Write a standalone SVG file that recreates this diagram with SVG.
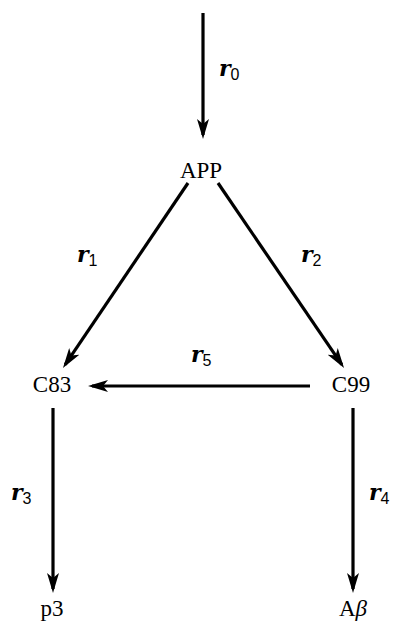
<svg xmlns="http://www.w3.org/2000/svg" width="394" height="629" viewBox="0 0 394 629">
<defs>
<style>
.node{font-family:"Liberation Serif","Times New Roman",serif;font-size:23px;fill:#000}
.lbl{font-family:"DejaVu Serif","Liberation Serif",serif;font-weight:bold;font-style:italic;font-size:22px;fill:#000}
.sub{font-family:"Liberation Sans",Arial,sans-serif;font-style:normal;font-weight:normal;font-size:16px}
.edge{stroke:#000;stroke-width:3.2;fill:none;marker-end:url(#ah)}
</style>
<marker id="ah" viewBox="0 0 20 12" refX="16" refY="6" markerWidth="20" markerHeight="12" markerUnits="userSpaceOnUse" orient="auto">
<path d="M0,0 L20,6 L0,12 L5,6 z" fill="#000"/>
</marker>
</defs>
<rect width="394" height="629" fill="#fff"/>
<g id="connectors">
<line class="edge" x1="203" y1="13" x2="203" y2="135"/>
<line class="edge" x1="188" y1="183" x2="65.2" y2="364.7"/>
<line class="edge" x1="218" y1="183" x2="341.8" y2="364.7"/>
<line class="edge" x1="310" y1="386" x2="92" y2="386"/>
<line class="edge" x1="53" y1="408" x2="53" y2="589"/>
<line class="edge" x1="353" y1="408" x2="353" y2="589"/>
</g>
<g id="labels">
<text class="lbl" x="219" y="76">r<tspan class="sub" dy="4">0</tspan></text>
<text class="lbl" x="77" y="262">r<tspan class="sub" dy="4">1</tspan></text>
<text class="lbl" x="301" y="262">r<tspan class="sub" dy="4">2</tspan></text>
<text class="lbl" x="11" y="500">r<tspan class="sub" dy="4">3</tspan></text>
<text class="lbl" x="369" y="500">r<tspan class="sub" dy="4">4</tspan></text>
<text class="lbl" x="191" y="362">r<tspan class="sub" dy="4">5</tspan></text>
</g>
<g id="APP"><text class="node" x="201" y="178" text-anchor="middle">APP</text></g>
<g id="C83"><text class="node" x="52" y="392" text-anchor="middle">C83</text></g>
<g id="C99"><text class="node" x="351" y="392" text-anchor="middle">C99</text></g>
<g id="p3"><text class="node" x="52" y="616" text-anchor="middle">p3</text></g>
<g id="Abeta"><text class="node" x="353" y="616" text-anchor="middle">A<tspan font-style="italic">β</tspan></text></g>
</svg>
